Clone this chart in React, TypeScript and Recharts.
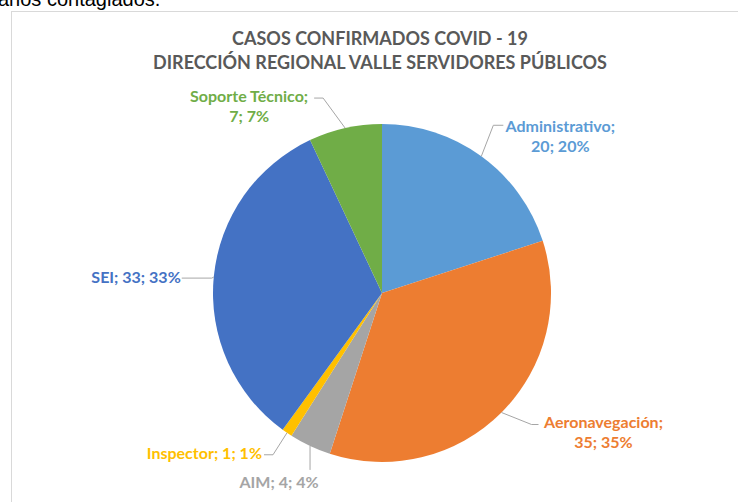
import React from 'react'
import { PieChart, Pie, Cell } from 'recharts'

const CATEGORIES = ['Administrativo', 'Aeronavegación', 'AIM', 'Inspector', 'SEI', 'Soporte Técnico']
const CASES = [20, 35, 4, 1, 33, 7]
const COLORS = ['#5B9BD5', '#ED7D31', '#A5A5A5', '#FFC000', '#4472C4', '#70AD47']
const TITLE_LINES = ['CASOS CONFIRMADOS COVID - 19', 'DIRECCIÓN REGIONAL VALLE SERVIDORES PÚBLICOS']

const chartData = CATEGORIES.map((name, i) => ({ name, value: CASES[i] }))

// where each label sits, relative to the point where its leader leaves the pie
const LABEL_LAYOUT: Record<string, any> = {
    'Administrativo': { elbow: [12, -31], tail: 10, tx: 57, ty: 0, anchor: 'middle', wrap: true },
    'Aeronavegación': { elbow: [30, 12], tail: 7, tx: 65, ty: -3, anchor: 'middle', wrap: true },
    'AIM': { elbow: [0, 24], tail: 0, tx: -31, ty: 12, anchor: 'middle', wrap: false },
    'Inspector': { elbow: [-14, 22], tail: -9, tx: -2, ty: -2, anchor: 'end', wrap: false },
    'SEI': { elbow: [-2, 1], tail: -30, tx: -1, ty: -2, anchor: 'end', wrap: false },
    'Soporte Técnico': { elbow: [-22, -30], tail: -9, tx: -65, ty: -3, anchor: 'middle', wrap: true },
}

const RAD = Math.PI / 180
const FONT = 'Lato, "Open Sans", sans-serif'

function renderLabel(props: any) {
    const { cx, cy, midAngle, outerRadius, name, value, percent, index } = props
    const lay = LABEL_LAYOUT[name]
    if (!lay) return null
    const ex = cx + outerRadius * Math.cos(-midAngle * RAD)
    const ey = cy + outerRadius * Math.sin(-midAngle * RAD)
    const bx = ex + lay.elbow[0]
    const by = ey + lay.elbow[1]
    const tx = bx + lay.tail
    const pct = `${Math.round(percent * 100)}%`
    const lines = lay.wrap ? [`${name};`, `${value}; ${pct}`] : [`${name}; ${value}; ${pct}`]
    const color = COLORS[index % COLORS.length]
    return (
        <g key={`lbl-${index}`}>
            <polyline
                points={`${ex},${ey} ${bx},${by} ${tx},${by}`}
                fill="none"
                stroke="#a6a6a6"
                strokeWidth={1}
            />
            {lines.map((line, i) => (
                <text
                    key={i}
                    x={tx + lay.tx}
                    y={by + lay.ty + i * 20}
                    textAnchor={lay.anchor}
                    dominantBaseline="central"
                    fill={color}
                    fontFamily={FONT}
                    fontWeight={700}
                    fontSize={16}
                >
                    {line}
                </text>
            ))}
        </g>
    )
}

export default function App() {
    return (
        <div style={{ position: 'absolute', left: 0, top: 0, width: 738, height: 502, overflow: 'hidden', background: '#fff' }}>
            <svg width={738} height={502} style={{ position: 'absolute', left: 0, top: 0 }}>
                <text x={-2} y={6} fontFamily='"Liberation Sans", Arial, sans-serif' fontSize={20} fill="#000">
                    anos contagiados.
                </text>
                <rect x={11.5} y={11.5} width={800} height={600} fill="#fff" stroke="#d9d9d9" />
                {TITLE_LINES.map((t, i) => (
                    <text
                        key={t}
                        x={380}
                        y={38 + i * 24}
                        textAnchor="middle"
                        dominantBaseline="central"
                        fontFamily={FONT}
                        fontWeight={700}
                        fontSize={18}
                        fill="#595959"
                    >
                        {t}
                    </text>
                ))}
            </svg>
            <div style={{ position: 'absolute', left: 0, top: 0 }}>
                <PieChart width={738} height={502} margin={{ top: 0, right: 0, bottom: 0, left: 0 }}>
                    <Pie
                        data={chartData}
                        dataKey="value"
                        nameKey="name"
                        cx={382}
                        cy={293}
                        outerRadius={169}
                        startAngle={90}
                        endAngle={-270}
                        stroke="none"
                        label={renderLabel}
                        labelLine={false}
                        isAnimationActive={false}
                    >
                        {chartData.map((_, index) => (
                            <Cell key={`cell-${index}`} fill={COLORS[index % COLORS.length]} />
                        ))}
                    </Pie>
                </PieChart>
            </div>
        </div>
    )
}
